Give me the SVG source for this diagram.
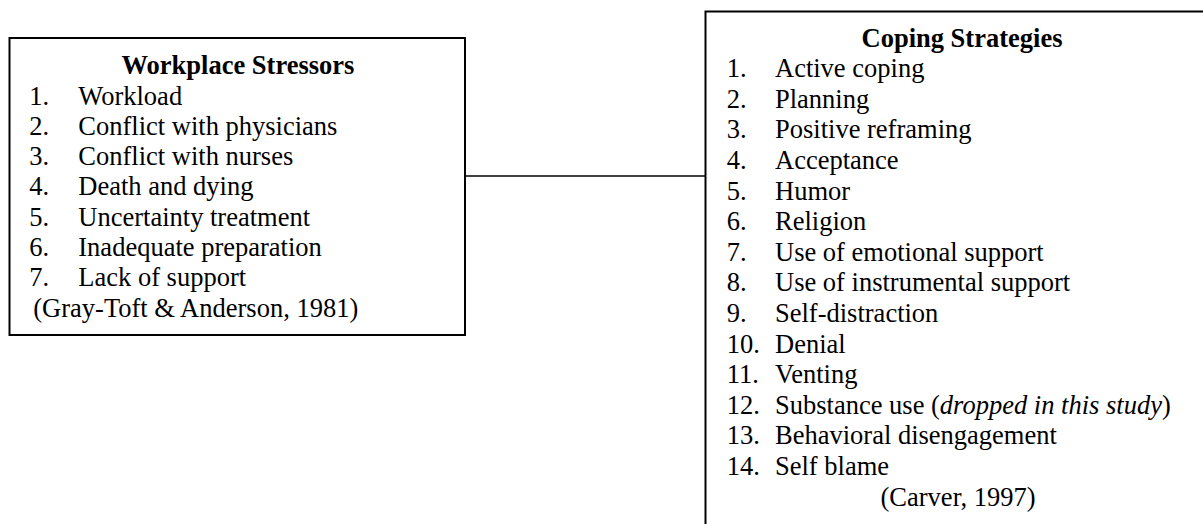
<svg xmlns="http://www.w3.org/2000/svg" width="1203" height="524" viewBox="0 0 1203 524">
<style>
.box{fill:#fff;stroke:#000;stroke-width:2}
.conn{stroke:#000;stroke-width:1.6;fill:none}
text{font-family:"Liberation Serif","Times New Roman",serif;font-size:26.5px;fill:#000}
.title{font-weight:bold;text-anchor:middle}
.mid{text-anchor:middle}
</style>
<rect width="1203" height="524" fill="#fff"/>
<g id="connectors">
<line class="conn" x1="465" y1="176" x2="705.5" y2="176"/>
</g>
<g id="workplace-stressors">
<rect class="box" x="9.5" y="38" width="455.5" height="297"/>
<text class="title" x="238" y="74">Workplace Stressors</text>
<text x="29.3" y="104.5">1.</text><text x="78.3" y="104.5">Workload</text>
<text x="29.3" y="134.8">2.</text><text x="78.3" y="134.8">Conflict with physicians</text>
<text x="29.3" y="165.1">3.</text><text x="78.3" y="165.1">Conflict with nurses</text>
<text x="29.3" y="195.4">4.</text><text x="78.3" y="195.4">Death and dying</text>
<text x="29.3" y="225.7">5.</text><text x="78.3" y="225.7">Uncertainty treatment</text>
<text x="29.3" y="256">6.</text><text x="78.3" y="256">Inadequate preparation</text>
<text x="29.3" y="286.3">7.</text><text x="78.3" y="286.3">Lack of support</text>
<text x="33.3" y="316.6">(Gray-Toft &amp; Anderson, 1981)</text>
</g>
<g id="coping-strategies">
<path class="box" d="M1204 11.5 H705.5 V525"/>
<text class="title" x="962" y="46.5">Coping Strategies</text>
<text x="726.7" y="77.2">1.</text><text x="775" y="77.2">Active coping</text>
<text x="726.7" y="107.8">2.</text><text x="775" y="107.8">Planning</text>
<text x="726.7" y="138.4">3.</text><text x="775" y="138.4">Positive reframing</text>
<text x="726.7" y="169">4.</text><text x="775" y="169">Acceptance</text>
<text x="726.7" y="199.6">5.</text><text x="775" y="199.6">Humor</text>
<text x="726.7" y="230.2">6.</text><text x="775" y="230.2">Religion</text>
<text x="726.7" y="260.8">7.</text><text x="775" y="260.8">Use of emotional support</text>
<text x="726.7" y="291.4">8.</text><text x="775" y="291.4">Use of instrumental support</text>
<text x="726.7" y="322">9.</text><text x="775" y="322">Self-distraction</text>
<text x="726.7" y="352.6">10.</text><text x="775" y="352.6">Denial</text>
<text x="726.7" y="383.2">11.</text><text x="775" y="383.2">Venting</text>
<text x="726.7" y="413.8">12.</text><text x="775" y="413.8">Substance use (<tspan font-style="italic">dropped in this study</tspan>)</text>
<text x="726.7" y="444.4">13.</text><text x="775" y="444.4">Behavioral disengagement</text>
<text x="726.7" y="475">14.</text><text x="775" y="475">Self blame</text>
<text class="mid" x="958" y="505.6">(Carver, 1997)</text>
</g>
</svg>
